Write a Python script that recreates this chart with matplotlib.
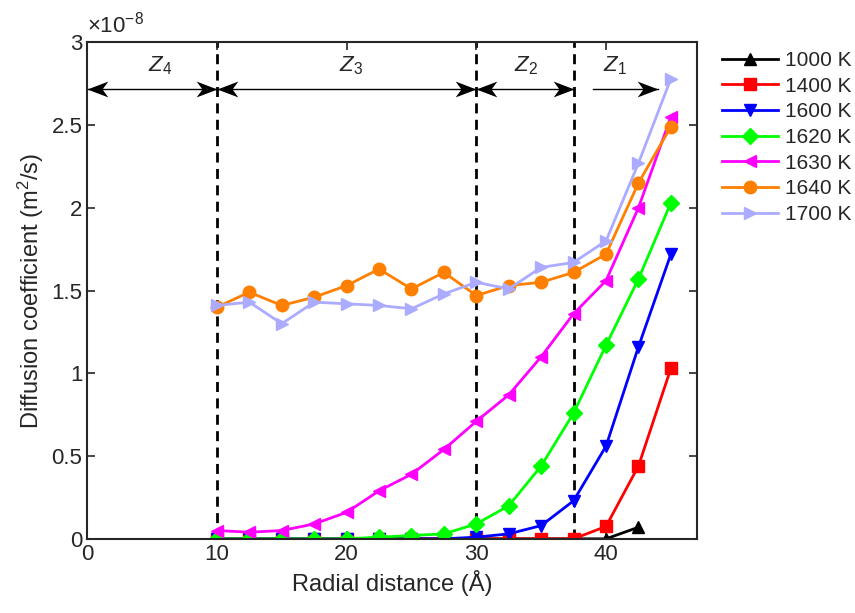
import numpy as np
import matplotlib.pyplot as plt
from matplotlib.ticker import FuncFormatter

plt.rcParams['font.family'] = ['Liberation Sans', 'DejaVu Sans']
plt.rcParams['mathtext.fontset'] = 'custom'
plt.rcParams['mathtext.rm'] = 'Liberation Sans'
plt.rcParams['mathtext.it'] = 'Liberation Sans:italic'
tc = '#262626'
plt.rcParams['text.color'] = tc
plt.rcParams['axes.labelcolor'] = tc
plt.rcParams['xtick.color'] = tc
plt.rcParams['ytick.color'] = tc

# Radial positions (Angstrom)
r = np.arange(10, 45.1, 2.5)

# Diffusion coefficients in units of 1e-8 m^2/s
d1000 = [0, 0, 0, 0, 0, 0, 0, 0, 0, 0, 0, 0, 0, 0.07]
d1400 = [0, 0, 0, 0, 0, 0, 0, 0, 0, 0, 0, 0, 0.075, 0.44, 1.03]
d1600 = [0, 0, 0, 0, 0, 0, 0, 0, 0.01, 0.03, 0.08, 0.23, 0.56, 1.16, 1.72]
d1620 = [0, 0, 0, 0, 0, 0.01, 0.02, 0.03, 0.09, 0.20, 0.44, 0.76, 1.17, 1.57, 2.03]
d1630 = [0.05, 0.04, 0.05, 0.09, 0.16, 0.29, 0.39, 0.54, 0.71, 0.87, 1.10, 1.36, 1.56, 2.00, 2.55]
d1640 = [1.40, 1.49, 1.41, 1.46, 1.53, 1.63, 1.51, 1.61, 1.47, 1.53, 1.55, 1.61, 1.72, 2.15, 2.49]
d1700 = [1.41, 1.43, 1.30, 1.43, 1.42, 1.41, 1.39, 1.48, 1.55, 1.51, 1.64, 1.67, 1.80, 2.27, 2.78]

labels = ['1000 K', '1400 K', '1600 K', '1620 K', '1630 K', '1640 K', '1700 K']
series = [d1000, d1400, d1600, d1620, d1630, d1640, d1700]
colors = ['k', 'r', 'b', (0, 1, 0), (1, 0, 1), (1, 0.5, 0), (0.67, 0.67, 1)]
markers = ['^', 's', 'v', 'D', '<', 'o', '>']
msizes = [9, 8, 9, 8, 9, 9, 9]

# zone boundaries and labels
bounds = [10, 30, 37.5]
zones = [('$Z_4$', 5.6), ('$Z_3$', 20.3), ('$Z_2$', 33.8), ('$Z_1$', 40.7)]

fig = plt.figure(figsize=(8.55, 6.13), dpi=100)
ax = fig.add_axes([0.102, 0.121, 0.713, 0.810])

for y, lab, c, m, ms in zip(series, labels, colors, markers, msizes):
    y = np.array(y) * 1e-8
    ax.plot(r[:len(y)], y, color=c, marker=m, ms=ms, lw=2, label=lab)

for b in bounds:
    ax.axvline(b, color='k', ls=(0, (3.6, 2.3)), lw=2, zorder=1)

# zone arrows: thin shafts with notched heads
ya = 2.72e-8
head_r = [(0, 0), (-1, 0.38), (-0.72, 0), (-1, -0.38), (0, 0)]
head_l = [(-x, y) for x, y in head_r]
spans = [(0, 10), (10, 30), (30, 37.5)]
for x0, x1 in spans:
    ax.plot([x0, x1], [ya, ya], color='k', lw=1)
    ax.plot(x1, ya, marker=head_r, ms=30, color='k', mew=0)
    ax.plot(x0, ya, marker=head_l, ms=30, color='k', mew=0)
ax.plot([39.0, 44.0], [ya, ya], color='k', lw=1)
ax.plot(44.0, ya, marker=head_r, ms=30, color='k', mew=0)

for txt, x in zones:
    ax.text(x, 2.86e-8, txt, ha='center', va='center', fontsize=16)

ax.set_xlim(0, 47)
ax.set_ylim(0, 3e-8)
ax.set_xticks([0, 10, 20, 30, 40])
ax.set_yticks(np.arange(0, 3.01e-8, 0.5e-8))
ax.yaxis.set_major_formatter(FuncFormatter(lambda v, p: '%g' % round(v * 1e8, 2)))
ax.text(0, 1.01, r'$\times$10$^{-8}$', transform=ax.transAxes, fontsize=16,
        ha='left', va='bottom')
ax.tick_params(direction='in', top=True, right=True, labelsize=16, width=1.2, length=6)
for s in ax.spines.values():
    s.set_linewidth(1.5)
    s.set_color(tc)

ax.set_xlabel('Radial distance (Å)', fontsize=17)
ax.set_ylabel('Diffusion coefficient (m$^2$/s)', fontsize=17)

ax.legend(loc='upper left', bbox_to_anchor=(1.01, 1.02), frameon=False,
          fontsize=15, handlelength=2.7, handletextpad=0.35, labelspacing=0.32)

fig.savefig('out.png', dpi=100)
